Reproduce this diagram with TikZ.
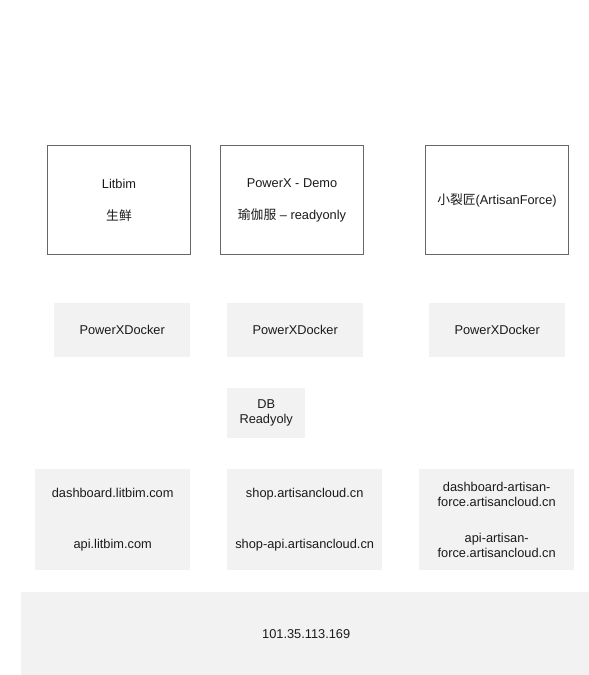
\documentclass[tikz,border=0pt]{standalone}
\usepackage{fontspec}
\setmainfont{Liberation Sans}
\newfontfamily\cjk{Noto Sans CJK SC}
\definecolor{boxline}{HTML}{666666}
\definecolor{greyfill}{HTML}{F2F2F2}
\definecolor{ink}{HTML}{1A1A1A}
\tikzset{
  txt/.style={font=\fontsize{12.8}{15}\selectfont, text=ink, align=center, inner sep=0pt},
  outlinebox/.style={txt, draw=boxline, line width=1pt, fill=white, anchor=north west},
  greybox/.style={txt, fill=greyfill, draw=none, anchor=north west},
}
\begin{document}
\begin{tikzpicture}[x=1pt,y=-1pt]
\useasboundingbox (0,0) rectangle (589,675);
% top row: applications
\node[outlinebox, minimum width=143pt, minimum height=109pt] (litbim) at (47,145)
  {Litbim\\[17pt]{\cjk 生鲜}};
\node[outlinebox, minimum width=143pt, minimum height=109pt] (demo) at (220,145)
  {PowerX - Demo\\[17pt]{\cjk 瑜伽服} – readyonly};
\node[outlinebox, minimum width=143pt, minimum height=109pt] (artisan) at (425,145)
  {{\cjk 小裂匠}(ArtisanForce)};
% docker row
\node[greybox, minimum width=136pt, minimum height=54pt] (dock1) at (54,303) {PowerXDocker};
\node[greybox, minimum width=136pt, minimum height=54pt] (dock2) at (227,303) {PowerXDocker};
\node[greybox, minimum width=136pt, minimum height=54pt] (dock3) at (429,303) {PowerXDocker};
% db
\node[greybox, minimum width=78pt, minimum height=50pt] (db) at (227,388) {DB\\Readyoly};
% domains
\node[greybox, minimum width=155pt, minimum height=101pt] (dom1) at (35,469)
  {dashboard.litbim.com\\[36pt]api.litbim.com};
\node[greybox, minimum width=155pt, minimum height=101pt] (dom2) at (227,469)
  {shop.artisancloud.cn\\[36pt]shop-api.artisancloud.cn};
\node[greybox, minimum width=155pt, minimum height=101pt] (dom3) at (419,469)
  {dashboard-artisan-\\force.artisancloud.cn\\[20.5pt]api-artisan-\\force.artisancloud.cn};
% server
\node[greybox, minimum width=570pt, minimum height=84pt] (server) at (21,592) {101.35.113.169};
\end{tikzpicture}
\end{document}
